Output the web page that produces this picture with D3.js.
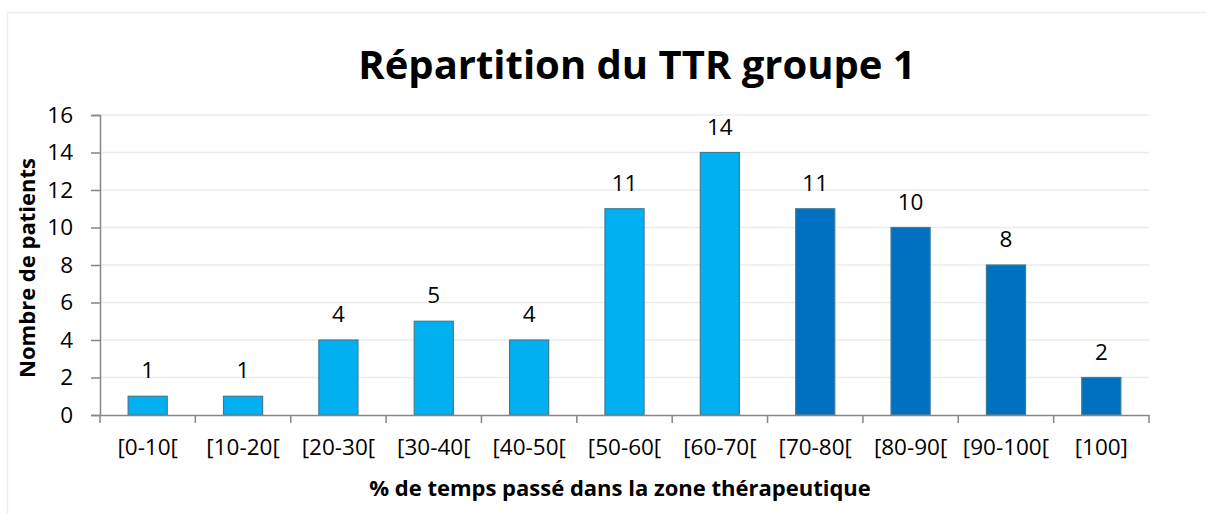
<!DOCTYPE html>
<html><head><meta charset="utf-8">
<script src="https://cdn.jsdelivr.net/npm/d3@7"></script>
<style>body{margin:0;background:#fff}svg{display:block}text{font-family:"Open Sans",sans-serif}</style>
</head><body><svg id="c" width="1206" height="514"></svg>
<script>
const categories = ["[0-10[","[10-20[","[20-30[","[30-40[","[40-50[","[50-60[","[60-70[","[70-80[","[80-90[","[90-100[","[100]"];
const values = [1,1,4,5,4,11,14,11,10,8,2];
const groups = ["low","low","low","low","low","low","low","high","high","high","high"];
const yTicks = [0,2,4,6,8,10,12,14,16];
const colors = {low:"#00B0F0", high:"#0070C0"};

const svg = d3.select("#c");
svg.append("rect").attr("x",7.5).attr("y",12.5).attr("width",1210).attr("height",520)
  .attr("fill","#fff").attr("stroke","#EDEDED").attr("stroke-width",1.5);

const m = {l:100, r:1149, t:115, b:415};
const x = d3.scaleBand().domain(categories).range([m.l,m.r]).paddingInner(0.59).paddingOuter(0.295);
const xb = d3.scaleBand().domain(categories).range([m.l,m.r]);
const y = d3.scaleLinear().domain([0,16]).range([m.b,m.t]);

svg.append("g").selectAll("line").data(yTicks.filter(d=>d>0)).join("line")
  .attr("x1",m.l).attr("x2",m.r).attr("y1",d=>y(d)).attr("y2",d=>y(d))
  .attr("stroke","#EBEBEB").attr("stroke-width",1.5);

svg.append("g").selectAll("rect").data(values).join("rect")
  .attr("x",(d,i)=>x(categories[i])).attr("width",x.bandwidth())
  .attr("y",d=>y(d)).attr("height",d=>y(0)-y(d))
  .attr("fill",(d,i)=>colors[groups[i]]).attr("stroke","#3C7D98").attr("stroke-width",1.2);

svg.append("g").selectAll("text").data(values).join("text")
  .attr("x",(d,i)=>x(categories[i])+x.bandwidth()/2).attr("y",d=>y(d)-18)
  .attr("text-anchor","middle").attr("font-size",22.5).attr("fill","#000").text(d=>d);

const ya = svg.append("g").attr("transform",`translate(${m.l},0)`)
  .call(d3.axisLeft(y).tickValues(yTicks).tickSize(9).tickPadding(18));
ya.select(".domain").attr("stroke","#868686").attr("stroke-width",1.5);
ya.selectAll(".tick line").attr("stroke","#868686").attr("stroke-width",1.5);
ya.selectAll(".tick text").attr("font-size",22.5).attr("fill","#000").attr("font-family","Open Sans");

const xa = svg.append("g").attr("transform",`translate(0,${m.b})`)
  .call(d3.axisBottom(xb).tickSize(0).tickPadding(0));
xa.select(".domain").attr("stroke","#868686").attr("stroke-width",1.5);
xa.selectAll(".tick text").attr("font-size",22.5).attr("fill","#000").attr("font-family","Open Sans")
  .attr("y",40).attr("dy",0);
xa.selectAll(".tick line").remove();
xa.append("g").selectAll("line").data(categories.concat(["end"])).join("line")
  .attr("x1",(d,i)=>m.l+i*xb.step()).attr("x2",(d,i)=>m.l+i*xb.step())
  .attr("y1",0).attr("y2",8).attr("stroke","#868686").attr("stroke-width",1.5);

svg.append("text").attr("x",637).attr("y",79).attr("text-anchor","middle")
  .attr("font-size",40).attr("font-weight","bold").text("Répartition du TTR groupe 1");
svg.append("text").attr("x",620).attr("y",496).attr("text-anchor","middle")
  .attr("font-size",22).attr("font-weight","bold").text("% de temps passé dans la zone thérapeutique");
svg.append("text").attr("transform","translate(35,268) rotate(-90)").attr("text-anchor","middle")
  .attr("font-size",22).attr("font-weight","bold").text("Nombre de patients");
</script></body></html>
